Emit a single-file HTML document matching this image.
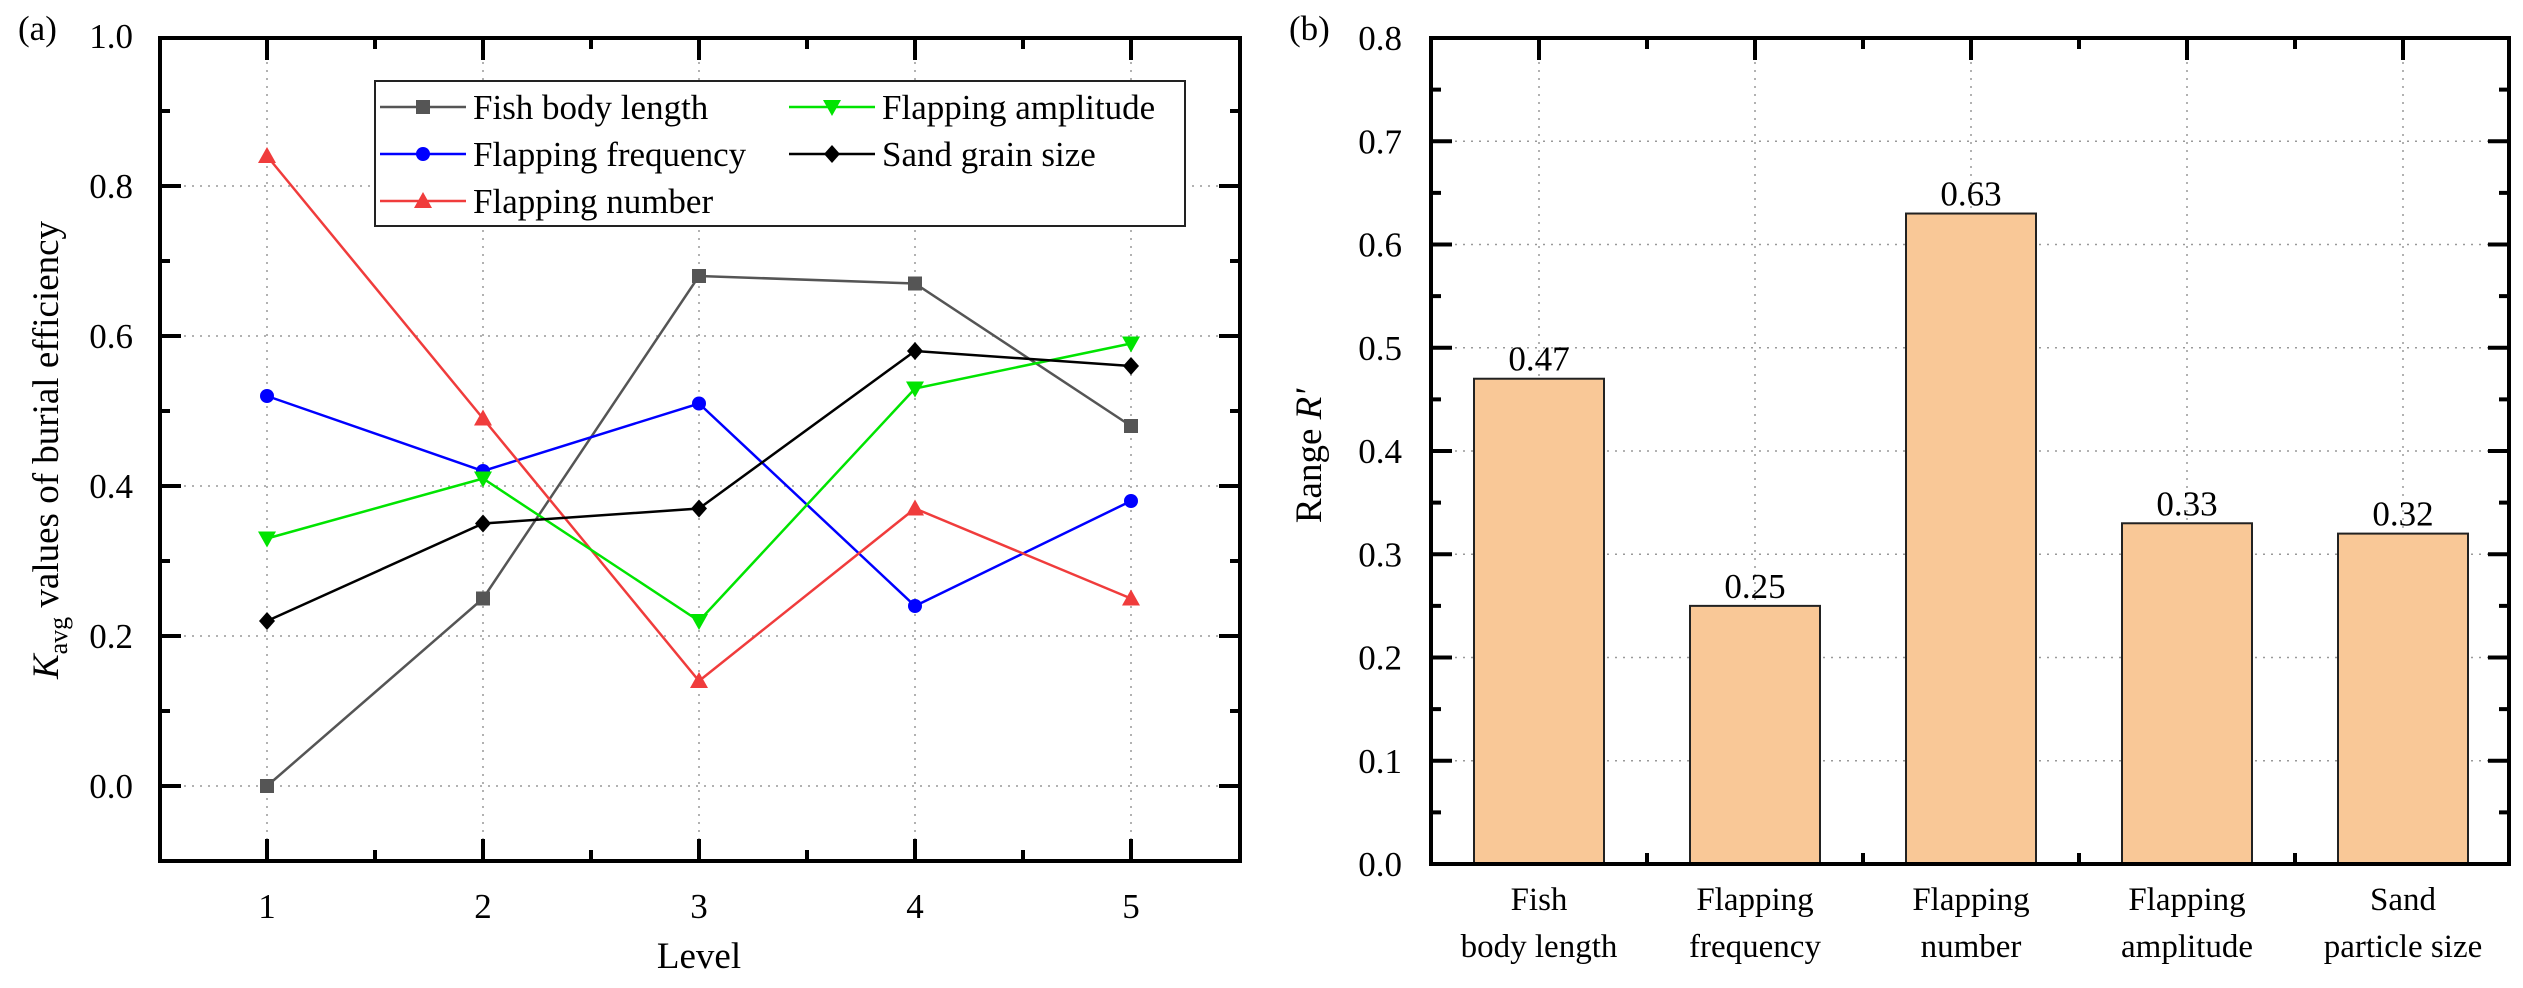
<!DOCTYPE html>
<html><head><meta charset="utf-8"><style>
html,body{margin:0;padding:0;background:#fff}
svg{display:block;font-family:"Liberation Serif",serif}
</style></head><body>
<svg id="c" width="2523" height="988" viewBox="0 0 2523 988" xmlns="http://www.w3.org/2000/svg"></svg>
<script>
const levels=[1,2,3,4,5];
const fishBody=[0.00,0.25,0.68,0.67,0.48];
const flapFreq=[0.52,0.42,0.51,0.24,0.38];
const flapNum=[0.84,0.49,0.14,0.37,0.25];
const flapAmp=[0.33,0.41,0.22,0.53,0.59];
const sandGrain=[0.22,0.35,0.37,0.58,0.56];
const yTicksA=["0.0","0.2","0.4","0.6","0.8","1.0"];
const categoriesB=[["Fish","body length"],["Flapping","frequency"],["Flapping","number"],["Flapping","amplitude"],["Sand","particle size"]];
const rangeVals=[0.47,0.25,0.63,0.33,0.32];
const yTicksB=["0.0","0.1","0.2","0.3","0.4","0.5","0.6","0.7","0.8"];

const NS="http://www.w3.org/2000/svg";
const svg=document.getElementById('c');
function mk(tag,attrs,parent){const e=document.createElementNS(NS,tag);for(const k in attrs)e.setAttribute(k,attrs[k]);(parent||svg).appendChild(e);return e;}

// ---------- Chart A ----------
const A={l:160,r:1240,t:38,b:861};
const xA=v=>267+(v-1)*216;
const yA=v=>786-v*750;
const gA=mk('g',{});


// grid
for(const s of yTicksA){const v=+s;if(v>0&&v<1){const l=mk('line',{x1:A.l,x2:A.r,y1:yA(v),y2:yA(v),stroke:'#999','stroke-width':1.5,'stroke-dasharray':'2 6'},gA);}
 if(v===0){const l=mk('line',{x1:A.l,x2:A.r,y1:yA(v),y2:yA(v),stroke:'#999','stroke-width':1.5,'stroke-dasharray':'2 6'},gA);}}
for(const lv of levels){const l=mk('line',{x1:xA(lv),x2:xA(lv),y1:A.t,y2:A.b,stroke:'#999','stroke-width':1.5,'stroke-dasharray':'2 6'},gA);}
// ticks
for(let i=-1;i<=10;i++){const v=i*0.1;const y=yA(v);if(y<A.t||y>A.b)continue;const major=(i%2===0);const len=major?21:10;
 mk('line',{x1:A.l,x2:A.l+len,y1:y,y2:y,stroke:'#000','stroke-width':4},gA);mk('line',{x1:A.r,x2:A.r-len,y1:y,y2:y,stroke:'#000','stroke-width':4},gA);}
for(let i=0;i<=10;i++){const v=0.5+i*0.5;const x=xA(v);if(x<=A.l+2||x>=A.r-2)continue;const major=Number.isInteger(v);const len=major?22:11;
 mk('line',{x1:x,x2:x,y1:A.b,y2:A.b-len,stroke:'#000','stroke-width':4},gA);mk('line',{x1:x,x2:x,y1:A.t,y2:A.t+len,stroke:'#000','stroke-width':4},gA);}
const fA=mk('rect',{x:A.l,y:A.t,width:A.r-A.l,height:A.b-A.t,fill:'none',stroke:'#000','stroke-width':4},gA);

for(const s of yTicksA){const t=mk('text',{x:133,y:yA(+s)+12,'text-anchor':'end','font-size':35},gA);t.textContent=s;}
for(const lv of levels){const t=mk('text',{x:xA(lv),y:918,'text-anchor':'middle','font-size':35},gA);t.textContent=lv;}
let t=mk('text',{x:xA(3),y:968,'text-anchor':'middle','font-size':37},gA);t.textContent='Level';
t=mk('text',{x:18,y:40,'font-size':35},gA);t.textContent='(a)';
t=mk('text',{transform:'translate(58,450) rotate(-90)','text-anchor':'middle','font-size':37},gA);
t.innerHTML='<tspan font-style="italic">K</tspan><tspan font-size="26" dy="9">avg</tspan><tspan dy="-9"> values of burial efficiency</tspan>';


function marker(type,x,y,color,parent){
 let e;
 if(type==='sq')e=mk('rect',{x:x-7,y:y-7,width:14,height:14,fill:color},parent);
 else if(type==='ci')e=mk('circle',{cx:x,cy:y,r:7,fill:color},parent);
 else if(type==='up')e=mk('polygon',{points:`${x},${y-9} ${x-9},${y+7} ${x+9},${y+7}`,fill:color},parent);
 else if(type==='dn')e=mk('polygon',{points:`${x},${y+9} ${x-9},${y-7} ${x+9},${y-7}`,fill:color},parent);
 else e=mk('polygon',{points:`${x},${y-9} ${x+8},${y} ${x},${y+9} ${x-8},${y}`,fill:color},parent);
 return e;
}
const series=[
 {name:'Fish body length',vals:fishBody,color:'#555555',m:'sq',key:'fish-body-length'},
 {name:'Flapping frequency',vals:flapFreq,color:'#0000ff',m:'ci',key:'flapping-frequency'},
 {name:'Flapping number',vals:flapNum,color:'#f03c3c',m:'up',key:'flapping-number'},
 {name:'Flapping amplitude',vals:flapAmp,color:'#00e400',m:'dn',key:'flapping-amplitude'},
 {name:'Sand grain size',vals:sandGrain,color:'#000000',m:'di',key:'sand-grain-size'}];
for(const s of series){
 const g=mk('g',{},gA);
 
 
 mk('polyline',{points:s.vals.map((v,i)=>xA(levels[i])+','+yA(v)).join(' '),fill:'none',stroke:s.color,'stroke-width':2.5},g);
 s.vals.forEach((v,i)=>{const m=marker(s.m,xA(levels[i]),yA(v),s.color,g);});
}
// legend
const lg=mk('g',{},gA);


mk('rect',{x:375,y:81,width:810,height:145,fill:'#fff',stroke:'#222','stroke-width':2},lg);
const legPos=[[380,107],[380,154],[380,201],[789,107],[789,154]];
series.forEach((s,i)=>{const [lx,ly]=legPos[i];
 const e=mk('g',{},lg);
 
 
 mk('line',{x1:lx,x2:lx+86,y1:ly,y2:ly,stroke:s.color,'stroke-width':2.5},e);
 marker(s.m,lx+43,ly,s.color,e);
 const tt=mk('text',{x:lx+93,y:ly+12,'font-size':35},e);tt.textContent=s.name;});

// ---------- Chart B ----------
const B={l:1431,r:2509,t:38,b:864};
const xB=i=>1539+i*216;
const yB=v=>864-v*1032.5;
const gB=mk('g',{});


for(const s of yTicksB){const v=+s;if(v>0&&v<0.8){const l=mk('line',{x1:B.l,x2:B.r,y1:yB(v),y2:yB(v),stroke:'#999','stroke-width':1.5,'stroke-dasharray':'2 6'},gB);}}
categoriesB.forEach((c,i)=>{const l=mk('line',{x1:xB(i),x2:xB(i),y1:B.t,y2:B.b,stroke:'#999','stroke-width':1.5,'stroke-dasharray':'2 6'},gB);});
rangeVals.forEach((v,i)=>{
 const r=mk('rect',{x:xB(i)-65,y:yB(v),width:130,height:yB(0)-yB(v),fill:'#f9c897',stroke:'#222','stroke-width':2},gB);
 
 const tt=mk('text',{x:xB(i),y:yB(v)-8,'text-anchor':'middle','font-size':35},gB);tt.textContent=v.toFixed(2);
 });
for(let i=0;i<=16;i++){const v=i*0.05;const y=yB(v);const major=(i%2===0);const len=major?21:10;
 mk('line',{x1:B.l,x2:B.l+len,y1:y,y2:y,stroke:'#000','stroke-width':4},gB);mk('line',{x1:B.r,x2:B.r-len,y1:y,y2:y,stroke:'#000','stroke-width':4},gB);}
for(let i=0;i<5;i++){mk('line',{x1:xB(i),x2:xB(i),y1:B.t,y2:B.t+22,stroke:'#000','stroke-width':4},gB);
 if(i<4){const x=xB(i)+108;mk('line',{x1:x,x2:x,y1:B.b,y2:B.b-11,stroke:'#000','stroke-width':4},gB);mk('line',{x1:x,x2:x,y1:B.t,y2:B.t+11,stroke:'#000','stroke-width':4},gB);}}
const fB=mk('rect',{x:B.l,y:B.t,width:B.r-B.l,height:B.b-B.t,fill:'none',stroke:'#000','stroke-width':4},gB);

for(const s of yTicksB){const tt=mk('text',{x:1402,y:yB(+s)+12,'text-anchor':'end','font-size':35},gB);tt.textContent=s;}
categoriesB.forEach((c,i)=>{const tt=mk('text',{x:xB(i),y:910,'text-anchor':'middle','font-size':33},gB);
 tt.innerHTML=`<tspan x="${xB(i)}">${c[0]}</tspan><tspan x="${xB(i)}" dy="47">${c[1]}</tspan>`;
 });
t=mk('text',{x:1289,y:40,'font-size':35},gB);t.textContent='(b)';
t=mk('text',{transform:'translate(1321,456) rotate(-90)','text-anchor':'middle','font-size':37},gB);
t.innerHTML='Range <tspan font-style="italic">R\'</tspan>';

</script>
</body></html>
